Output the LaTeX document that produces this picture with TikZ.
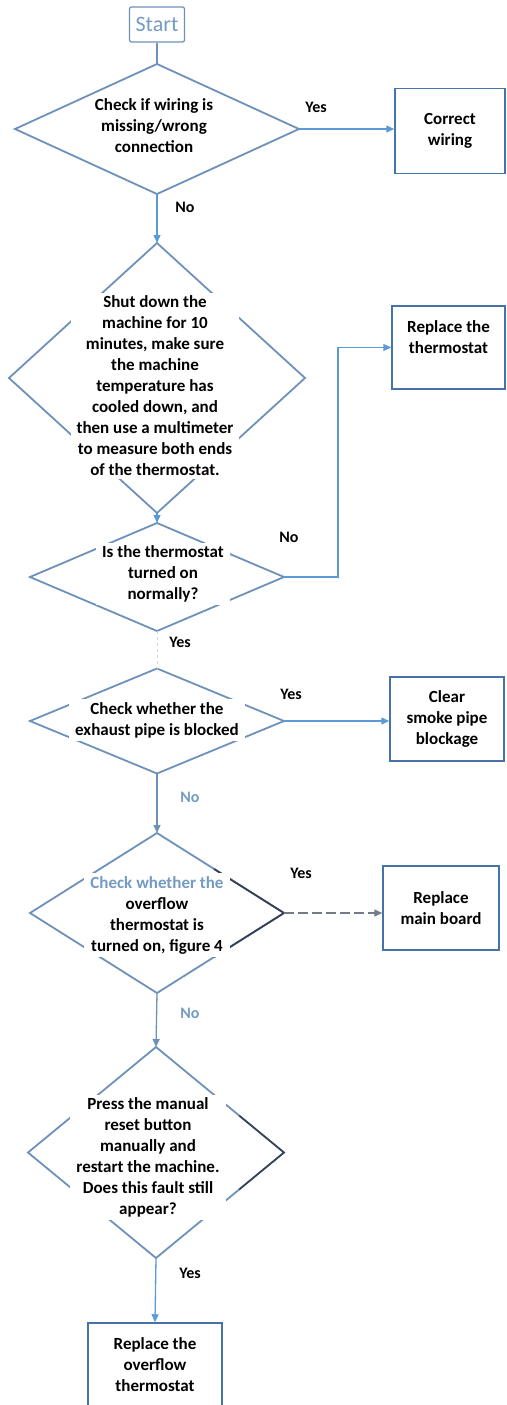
\documentclass[tikz,border=0pt]{standalone}
\usepackage{fontspec}
\setmainfont{Carlito}
\usetikzlibrary{shapes.geometric,arrows.meta,calc}
\definecolor{dline}{RGB}{110,145,185}
\definecolor{arr}{RGB}{91,155,213}
\definecolor{boxc}{RGB}{70,115,170}
\definecolor{lblue}{RGB}{115,155,195}
\definecolor{darkedge}{RGB}{55,65,85}
\begin{document}
\begin{tikzpicture}[x=1pt,y=-1pt,
  dia/.style={diamond, draw=dline, line width=1.8pt, inner sep=0pt, outer sep=0pt},
  txt/.style={fill=white, font=\fontsize{17}{21}\selectfont\bfseries, align=center, inner xsep=6pt, inner ysep=3pt},
  proc/.style={draw=boxc, line width=1.5pt, font=\fontsize{17}{21}\selectfont\bfseries, align=center, inner sep=2pt},
  conn/.style={draw=arr, line width=1.3pt, -{Triangle[length=8pt,width=7pt]}},
  lbl/.style={font=\fontsize{16}{18}\selectfont\bfseries}
]
\useasboundingbox (0,0) rectangle (506,1405);

% Start
\node[draw=dline, rounded corners=2pt, line width=1.2pt, minimum width=55pt, minimum height=35pt,
      text=lblue, font=\fontsize{22}{24}\selectfont, inner sep=0pt] (start) at (157,24.5) {Start};

% Diamond outlines
\node[dia, minimum width=284pt, minimum height=130pt] (d1) at (157,129) {};
\node[dia, minimum width=296pt, minimum height=270pt] (d2) at (157,378) {};
\node[dia, minimum width=254pt, minimum height=108pt] (d3) at (157,577) {};
\node[dia, minimum width=254pt, minimum height=105pt] (d4) at (157,721) {};
\node[dia, minimum width=254pt, minimum height=160pt] (d5) at (157,913) {};
\node[dia, minimum width=256pt, minimum height=211pt] (d6) at (156,1152.5) {};

% darker right edges
\draw[darkedge, line width=1.8pt] ($(d5.east)!0.55!(d5.north)$) -- (d5.east) -- ($(d5.east)!0.55!(d5.south)$);
\draw[darkedge, line width=1.6pt] ($(d6.east)!0.35!(d6.north)$) -- (d6.east) -- ($(d6.east)!0.35!(d6.south)$);

% Diamond texts
\node[txt] (t1) at (154,126) {Check if wiring is\\missing/wrong\\connection};
\node[txt] (t2) at (155,386) {Shut down the\\machine for 10\\minutes, make sure\\the machine\\temperature has\\cooled down, and\\then use a multimeter\\to measure both ends\\of the thermostat.};
\node[txt] (t3) at (163,574) {Is the thermostat\\turned on\\normally?};
\node[txt] (t4) at (157,720) {Check whether the\\exhaust pipe is blocked};
\node[txt] (t5) at (157,915) {\textcolor{lblue}{Check whether the}\\overflow\\thermostat is\\turned on, figure 4};
\node[txt] (t6) at (148,1157.5) {Press the manual\\reset button\\manually and\\restart the machine.\\Does this fault still\\appear?};

% Process boxes
\node[proc, minimum width=110pt, minimum height=85pt] (b1) at (450,131) {Correct\\wiring};
\node[proc, minimum width=113pt, minimum height=83pt] (b2) at (448.5,347.5) {Replace the\\thermostat\\\mbox{}};
\node[proc, minimum width=114pt, minimum height=84pt] (b3) at (447,719) {Clear\\smoke pipe\\blockage};
\node[proc, minimum width=116pt, minimum height=84pt] (b4) at (441,908) {Replace\\main board};
\node[proc, minimum width=134pt, minimum height=84pt] (b5) at (155,1365) {Replace the\\overflow\\thermostat};

% Connectors
\draw[dline, line width=1.3pt] (start) -- (d1.north);
\draw[conn] (d1.east) -- (d1.east -| b1.west);
\draw[conn] (d1.south) -- (d2.north);
\draw[conn] (d2.south) -- (d3.north);
\draw[conn] (d3.east) -- ++(54,0) |- (b2.west);
\draw[draw=black!15, line width=1pt, dashed] (d3.south) -- (d4.north);
\draw[conn] (d4.east) -- (d4.east -| b3.west);
\draw[conn, draw=dline] (d4.south) -- (d5.north);
\draw[draw=darkedge!70, line width=1.3pt, dash pattern=on 10pt off 4pt, -{Triangle[length=8pt,width=7pt]}] (d5.east) -- (d5.east -| b4.west);
\draw[conn, draw=dline] (d5.south) -- (d6.north);
\draw[conn] (d6.south) -- (b5.north);

% Labels
\node[lbl] (l1) at (316,107) {Yes};
\node[lbl] (l2) at (185,207) {No};
\node[lbl] (l3) at (289,537) {No};
\node[lbl] (l4) at (180,642) {Yes};
\node[lbl] (l5) at (291,694) {Yes};
\node[lbl, text=lblue] (l6) at (190,797) {No};
\node[lbl] (l7) at (301,873) {Yes};
\node[lbl, text=lblue] (l8) at (190,1013) {No};
\node[lbl] (l9) at (190,1273) {Yes};
\end{tikzpicture}
\end{document}
